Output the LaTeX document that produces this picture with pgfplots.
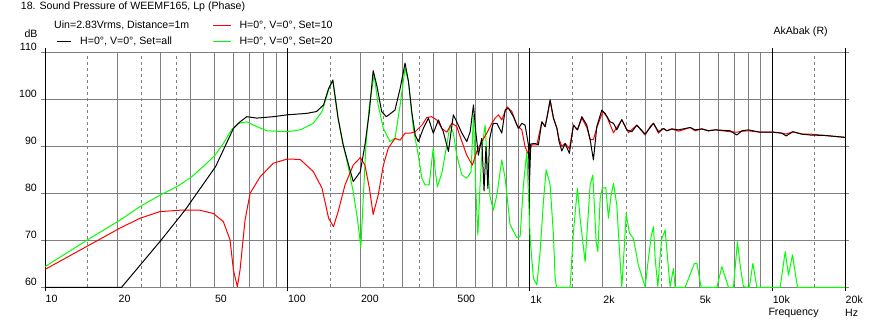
\documentclass[border=0pt]{standalone}
\usepackage{pgfplots}
\pgfplotsset{compat=1.18}
\usepackage{fontspec}
\setmainfont{Liberation Sans}
\newcommand\F{\fontsize{10.6}{12}\selectfont}
\definecolor{lgreen}{RGB}{0,255,0}
\definecolor{lred}{RGB}{255,0,0}
\definecolor{ggray}{RGB}{128,128,128}
\begin{document}
\begin{tikzpicture}[x=1pt,y=1pt]
\useasboundingbox (0,0) rectangle (872,326);
% dashed grid
\begin{axis}[at={(45pt,38.7pt)}, anchor=south west, scale only axis,
  width=800pt, height=235pt, xmode=log, xmin=10, xmax=20000, ymin=60, ymax=110,
  axis line style={draw=none}, tick style={draw=none},
  xtick={15,25,35,150,250,350,1500,2500,3500,15000}, xticklabels={},
  ytick=\empty, xmajorgrids,
  major grid style={ggray, line width=1pt, dash pattern=on 3pt off 3pt}]
\end{axis}
\begin{axis}[at={(45pt,38.7pt)}, anchor=south west, scale only axis,
  width=800pt, height=235pt, xmode=log, xmin=10, xmax=20000, ymin=60, ymax=110,
  axis line style={draw=none},
  tick align=outside, major tick length=4pt,
  xtick={10,20,50,100,200,500,1000,2000,5000,10000,20000},
  xticklabels={10,20,50,100,200,500,1k,2k,5k,10k,20k},
  minor xtick={30,40,60,70,80,90,300,400,600,700,800,900,3000,4000,6000,7000,8000,9000},
  xtick style={draw=none}, minor tick style={draw=none},
  ytick={60,70,80,90,100,110}, yticklabels={60,70,80,90,100,110},
  ytick style={draw=ggray, line width=1pt},
  xmajorgrids, xminorgrids, ymajorgrids,
  major grid style={ggray, line width=1pt}, minor grid style={ggray, line width=1pt},
  extra x ticks={10,100,1000,10000,20000}, extra x tick labels={},
  extra x tick style={grid=major, major grid style={black, line width=1pt}, xtick style={draw=black, line width=1pt}},
  xticklabel style={font=\F, anchor=west, inner sep=0pt, yshift=-8pt, xshift=0.5pt},
  yticklabel style={font=\F, anchor=east, inner sep=0pt, yshift=5pt, xshift=-4pt},
  line join=round]
\addplot[lgreen, line width=1pt] coordinates {
(10,64.4) (15.3,70.4) (20.4,74.3) (24.7,77.2) (29.8,79.6) (35.0,81.4) (40.3,83.5) (45.0,85.7) (50.3,88.1) (54.4,90.6) (59.0,93.6) (62.8,94.9) (68.0,95.2) (74.8,94.2) (82.2,93.3) (100,93.1) (113,93.5) (128,94.9) (139,97.4) (148,102.0) (154,104.1) (162,96.0) (170,90.3) (179,85.3) (187,80.3) (194.5,74.7) (201,68.5) (206,79.6) (211,90.3) (218,98.8) (228,105.2) (237,98.8) (249,93.8) (265,91.0) (278,91.7) (292,98.8) (306,106.6) (316,103.8) (331,93.8) (347,88.1) (359,83.2) (370,81.8) (385,81.8) (394,86.7) (400,89.6) (407,85.0) (416,81.4) (434,84.3) (455,90.3) (469,94.5) (484,92.8) (500,88.1) (525,83.9) (550,83.2) (573,84.6) (586,96.7) (599,81.1) (611,71.1) (624,81.8) (638,90.3) (655,94.5) (665,88.1) (686,79.3) (708,76.4) (732,79.6) (767,87.1) (792,83.2) (830,73.3) (885,70.6) (913,70.8) (942,81.8) (973,88.9) (1004,70.4) (1036,61.9) (1070,60.5) (1104,67.6) (1139,78.2) (1169,85.0) (1214,81.8) (1253,71.1) (1273,62) (1290,60) (1468,60) (1515,71.8) (1574,81.1) (1614,74.7) (1693,65.4) (1776,81.8) (1822,83.9) (1880,69.7) (1911,67.6) (1953,78.9) (1995,81.1) (2061,81.2) (2113,74.7) (2167,79.6) (2216,82.1) (2288,77.5) (2339,69.0) (2399,60.1) (2459,69.0) (2500,75.7) (2579,71.5) (2679,70.4) (2809,64.7) (2995,60.1) (3090,66.2) (3170,70.8) (3240,72.9) (3293,66.2) (3379,60.1) (3454,66.9) (3510,70.4) (3622,72.2) (3715,65.4) (3797,60.1) (3918,64.0) (3981,60) (4378,60) (4785,65.1) (4895,65.1) (5098,60) (5919,60) (6207,64.4) (6609,60) (6929,60) (7197,69.7) (7384,64.7) (7621,60.1) (8066,60) (8332,65.1) (8655,60) (10800,60) (11330,67.6) (11690,62.6) (12140,66.9) (12730,60) (20000,60)
};
\addplot[lred, line width=1pt] coordinates {
(10,63.8) (20.4,72.6) (24.7,74.7) (29.8,76.1) (36.1,76.4) (43.6,76.4) (49.5,75.7) (54.4,74.0) (58.0,70.1) (59.9,63.7) (62.2,60.1) (63.8,63.7) (66.9,74.3) (70.2,80.0) (77.2,83.5) (87.5,86.4) (100,87.3) (113,87.2) (128,84.6) (139,81.1) (148,74.7) (155,72.9) (162,76.1) (173,81.8) (187,86.0) (200,87.6) (209,86.0) (218,81.1) (226,75.5) (237,79.6) (249,86.0) (261,89.6) (278,91.7) (292,91.3) (306,92.8) (321,92.8) (337,93.1) (359,94.5) (376,96.1) (394,96.3) (414,95.6) (434,93.8) (455,93.0) (477,94.9) (500,94.2) (525,91.0) (550,88.1) (580,86.0) (605,88.9) (634,91.0) (665,92.8) (698,94.9) (720,96.0) (743,96.7) (767,95.6) (805,98.4) (844,97.4) (885,94.5) (928,93.5) (957,89.9) (988,88.3) (1020,90.3) (1070,90.3) (1122,95.2) (1158,94.2) (1186,96.8) (1214,99.6) (1253,96.0) (1294,94.0) (1322,91.5) (1357,90.0) (1400,90.6) (1458,89.5) (1515,94.5) (1574,93.5) (1641,96.0) (1721,94.0) (1776,91.4) (1832,91.4) (1892,94.0) (2003,97.4) (2081,96.3) (2216,92.9) (2399,95.6) (2555,92.9) (2767,94.5) (2995,92.4) (3140,94.2) (3240,94.9) (3398,92.8) (3563,93.8) (3680,93.3) (3859,93.7) (4109,93.2) (4592,94.0) (4816,93.3) (5132,93.7) (5464,93.3) (5824,93.5) (6716,93.1) (7156,93.0) (7505,93.2) (7990,93.3) (8932,93.0) (10134,93.0) (10980,92.8) (11430,92.6) (12180,93.1) (13270,92.6) (14360,92.6) (16560,92.3) (20000,91.9)
};
\addplot[black, line width=1pt] coordinates {
(10,60) (20.7,60) (30.1,70.0) (37.8,76.4) (50.6,85.7) (59.9,93.8) (63.8,95.2) (68.0,96.3) (74.8,96.0) (87.5,96.3) (100,96.7) (120,97.0) (132,97.4) (141,98.8) (148,102.3) (154,104.1) (162,95.9) (170,90.3) (179,86.0) (187,82.5) (200,84.6) (209,90.3) (218,97.4) (226,106.1) (234,102.9) (245,97.4) (256,96.3) (278,97.7) (292,102.3) (306,107.7) (316,103.8) (326,97.4) (337,92.4) (347,91.0) (364,93.8) (382,96.0) (400,92.8) (420,95.6) (440,93.1) (462,88.9) (484,96.7) (500,95.2) (525,92.8) (550,91.0) (568,93.1) (586,98.8) (599,93.1) (614,88.1) (634,91.7) (648,80.5) (660,90) (672,81.0) (683,91.5) (698,93.8) (708,94.9) (732,94.9) (767,92.8) (792,97.7) (817,98.1) (857,96.3) (898,93.8) (928,94.9) (957,94.5) (988,90.3) (997,81.5) (1010,90.5) (1053,90.6) (1086,90.3) (1122,95.2) (1158,94.2) (1186,97.0) (1214,99.9) (1253,96.0) (1294,93.8) (1322,91.0) (1357,89.0) (1400,90.6) (1458,88.5) (1515,94.5) (1574,93.5) (1641,96.3) (1721,94.5) (1776,91.4) (1832,87.1) (1892,94.2) (1984,97.7) (2047,97.0) (2147,95.2) (2216,94.9) (2288,93.5) (2399,95.7) (2516,93.5) (2639,93.1) (2767,94.5) (2995,92.6) (3240,94.9) (3398,93.1) (3563,93.8) (3680,93.3) (3859,93.7) (4109,93.5) (4592,94.0) (4816,93.5) (5132,93.7) (5464,93.3) (5824,93.5) (6716,93.3) (7156,92.4) (7505,93.3) (7990,93.5) (8932,93.0) (10134,93.0) (10980,92.8) (11430,92.2) (12180,93.1) (13270,92.6) (14360,92.4) (16560,92.3) (20000,91.9)
};
\end{axis}
\node[anchor=west, inner sep=0pt, font=\F] at (20.7,319.3) {18. Sound Pressure of WEEMF165, Lp (Phase)};
\node[anchor=west, inner sep=0pt, font=\F] at (54,300.7) {Uin=2.83Vrms, Distance=1m};
\draw[black, line width=1pt] (57.3,284.3) -- (71,284.3);
\node[anchor=west, inner sep=0pt, font=\F] at (80,284.3) {H=0°, V=0°, Set=all};
\draw[lred, line width=1pt] (213.3,300.7) -- (231,300.7);
\node[anchor=west, inner sep=0pt, font=\F] at (239.3,300.7) {H=0°, V=0°, Set=10};
\draw[lgreen, line width=1pt] (213.3,284.3) -- (231,284.3);
\node[anchor=west, inner sep=0pt, font=\F] at (239.3,284.3) {H=0°, V=0°, Set=20};
\node[inner sep=0pt, font=\F] at (31,292.7) {dB};
\node[anchor=west, inner sep=0pt, font=\F] at (773.3,294.3) {AkAbak (R)};
\node[anchor=west, inner sep=0pt, font=\F] at (768.3,12.7) {Frequency};
\node[anchor=west, inner sep=0pt, font=\F] at (845,12.7) {Hz};
\end{tikzpicture}
\end{document}
